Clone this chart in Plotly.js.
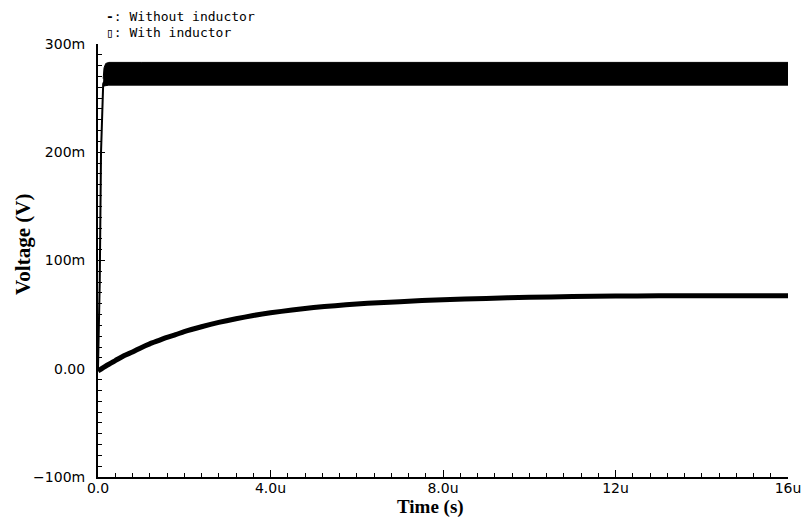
<!DOCTYPE html>
<html>
<head>
<meta charset="utf-8">
<script src="https://cdn.plot.ly/plotly-3.0.1.min.js"></script>
<style>html,body{margin:0;padding:0;background:#fff;}#chart{width:807px;height:518px;}</style>
</head>
<body>
<div id="chart"></div>
<script>
// Time in microseconds, voltage in millivolts
var lowT = [0, 0.2, 0.4, 0.6, 0.8, 1.0, 1.2, 1.4, 1.6, 1.8, 2.0, 2.4, 2.8, 3.2, 3.6, 4.0, 4.5, 5.0, 5.5, 6.0, 6.5, 7.0, 8.0, 9.0, 10.0, 11.0, 12.0, 13.0, 14.0, 16.0];
var lowV = [-2, 3, 7.5, 12, 15.5, 19.5, 23, 26, 29, 31.5, 34.3, 38.8, 42.8, 46.2, 49.2, 51.7, 54.2, 56.5, 58.3, 59.8, 61, 62, 63.8, 65, 66, 66.7, 67.2, 67.4, 67.5, 67.5];

var riseT = [0, 0.04, 0.07, 0.1, 0.12, 0.14];
var riseV = [0, 80, 200, 255, 263, 265];

var bandT = [0.12, 0.14, 0.18, 0.25, 1, 2, 4, 6, 8, 10, 12, 14, 16];
var bandUpper = [268, 278, 282, 283, 283, 283, 283, 283, 283.5, 283, 283, 283, 283];
var bandLower = [261, 261, 261.5, 262, 262, 262, 262, 262, 262, 262, 262, 262, 262];

var xTickVals = [0, 4, 8, 12, 16];
var xTickText = ['0.0', '4.0u', '8.0u', '12u', '16u'];
var yTickVals = [-100, 0, 100, 200, 300];
var yTickText = ['\u2212100m', '0.00', '100m', '200m', '300m'];

var legendLabels = ['Without inductor', 'With inductor'];
var xTitle = 'Time (s)';
var yTitle = 'Voltage (V)';

function toS(a){return a.map(function(v){return v*1e-6;});}
function toV(a){return a.map(function(v){return v*1e-3;});}

var traces = [
  {x: toS(bandT), y: toV(bandLower), mode: 'lines', line: {color: '#000', width: 1}, hoverinfo: 'skip'},
  {x: toS(bandT), y: toV(bandUpper), mode: 'lines', line: {color: '#000', width: 1}, fill: 'tonexty', fillcolor: '#000', hoverinfo: 'skip'},
  {x: toS(riseT), y: toV(riseV), mode: 'lines', line: {color: '#000', width: 2}, hoverinfo: 'skip'},
  {x: toS(lowT), y: toV(lowV), mode: 'lines', line: {color: '#000', width: 5, shape: 'spline', smoothing: 0.6}, hoverinfo: 'skip'}
];

var tickFont = {family: 'DejaVu Sans', size: 14, color: '#000'};

var layout = {
  width: 807, height: 518,
  margin: {l: 98, r: 19, t: 44, b: 41, pad: 0},
  paper_bgcolor: '#fff', plot_bgcolor: '#fff',
  showlegend: false,
  xaxis: {
    range: [0, 16e-6], showgrid: false, zeroline: false,
    showline: true, linecolor: '#000', linewidth: 2,
    ticks: 'inside', ticklen: 7, tickwidth: 1, tickcolor: '#000',
    tickvals: toS(xTickVals), ticktext: xTickText, tickfont: tickFont,
    ticklabelstandoff: -3,
    minor: {dtick: 0.4e-6, ticks: 'inside', ticklen: 4, tickwidth: 1, tickcolor: '#000', showgrid: false}
  },
  yaxis: {
    range: [-0.1, 0.3], showgrid: false, zeroline: false,
    showline: true, linecolor: '#000', linewidth: 2,
    ticks: 'inside', ticklen: 7, tickwidth: 1, tickcolor: '#000',
    tickvals: toV(yTickVals), ticktext: yTickText, tickfont: tickFont,
    ticklabelstandoff: 8,
    minor: {dtick: 0.01, ticks: 'inside', ticklen: 4, tickwidth: 1, tickcolor: '#000', showgrid: false}
  },
  annotations: [
    {xref: 'paper', yref: 'paper', x: 0.008, y: 1, yshift: 28, xanchor: 'left', yanchor: 'middle', showarrow: false,
     text: '<b>-</b>: ' + legendLabels[0], font: {family: 'DejaVu Sans Mono', size: 13, color: '#000'}},
    {xref: 'paper', yref: 'paper', x: 0.008, y: 1, yshift: 12, xanchor: 'left', yanchor: 'middle', showarrow: false,
     text: '\u25AF: ' + legendLabels[1], font: {family: 'DejaVu Sans Mono', size: 13, color: '#000'}},
    {xref: 'paper', yref: 'paper', x: 0.482, y: 0, yshift: -30, xanchor: 'center', yanchor: 'middle', showarrow: false,
     text: '<b>' + xTitle + '</b>', font: {family: 'Liberation Serif', size: 19, color: '#000'}},
    {xref: 'paper', yref: 'paper', x: 0, xshift: -75, y: 0.536, xanchor: 'center', yanchor: 'middle', showarrow: false, textangle: -90,
     text: '<b>' + yTitle + '</b>', font: {family: 'Liberation Serif', size: 21, color: '#000'}}
  ]
};

Plotly.newPlot('chart', traces, layout, {staticPlot: true});
</script>
</body>
</html>
